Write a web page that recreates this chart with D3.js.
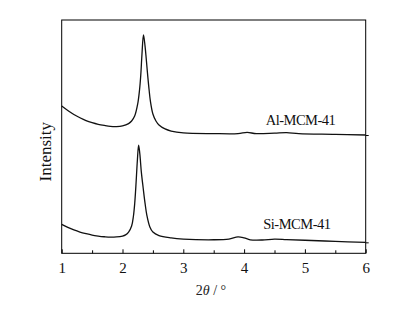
<!DOCTYPE html>
<html><head><meta charset="utf-8">
<script src="https://cdn.jsdelivr.net/npm/d3@7"></script>
<style>
html,body{margin:0;padding:0;background:#fff;}
svg{display:block;font-family:"Liberation Serif","Times New Roman",serif;}
</style></head>
<body>
<svg id="c" width="419" height="309"></svg>
<script>
// 2θ values and intensities (arbitrary units, stacked)
const alTheta = [1.0,1.1,1.2,1.3,1.4,1.5,1.6,1.7,1.8,1.9,2.0,2.1,2.15,2.2,2.25,2.28,2.3,2.32,2.345,2.37,2.39,2.41,2.43,2.46,2.5,2.55,2.6,2.7,2.8,3.0,3.5,3.9,4.05,4.2,4.5,4.7,4.9,5.5,6.0];
const alInt   = [631,612,595,581,569,560,553,548,544,543,546,556,567,588,640,700,762,852,936,890,835,775,720,650,597,567,550,533,524,516,513,513,518,513,515,517,513,510,507];
const siTheta = [1.0,1.1,1.2,1.3,1.4,1.5,1.6,1.7,1.8,1.9,2.0,2.05,2.1,2.15,2.18,2.2,2.22,2.245,2.265,2.285,2.31,2.34,2.37,2.4,2.45,2.5,2.6,2.8,3.0,3.5,3.75,3.9,4.0,4.1,4.3,4.5,4.7,5.0,5.5,6.0];
const siInt   = [124,111,100,91,84,78,74,71,69,70,74,79,91,117,160,211,288,400,464,426,348,280,216,164,113,91,76,66,61,58,61,70,66,58,57,61,59,56,51,47];
const xTicks = [1,2,3,4,5,6];
const xMinor = [1.5,2.5,3.5,4.5,5.5];
const seriesNames = ["Al-MCM-41","Si-MCM-41"];

const svg = d3.select("#c");
const L = 61.7, R = 365.7, T = 20, B = 253.3;
const x = d3.scaleLinear().domain([1,6]).range([L,R]);
const y = d3.scaleLinear().domain([0,1000]).range([B,T]);

// frame
svg.append("rect").attr("x",L).attr("y",T).attr("width",R-L).attr("height",B-T)
  .attr("fill","none").attr("stroke","#000").attr("stroke-width",1);

// bottom axis, ticks inward
const gx = svg.append("g").attr("transform",`translate(0,${B})`)
  .call(d3.axisBottom(x).tickValues(xTicks).tickFormat(d3.format("d")).tickSizeInner(-4).tickSizeOuter(0).tickPadding(9));
gx.select(".domain").remove();
gx.attr("font-size",15).attr("font-family","Liberation Serif, serif");
gx.selectAll("text").attr("fill","#111");
const gm = svg.append("g").attr("transform",`translate(0,${B})`)
  .call(d3.axisBottom(x).tickValues(xMinor).tickFormat("").tickSizeInner(-3).tickSizeOuter(0));
gm.select(".domain").remove();

// right axis ticks at curve ends
const gr = svg.append("g").attr("transform",`translate(${R},0)`)
  .call(d3.axisRight(y).tickValues([alInt[alInt.length-1], siInt[siInt.length-1]]).tickFormat("").tickSizeInner(3).tickSizeOuter(0));
gr.select(".domain").remove();

// curves
const line = d3.line().x(d=>x(d[0])).y(d=>y(d[1])).curve(d3.curveCatmullRom.alpha(0.5));
const data = [d3.zip(alTheta, alInt), d3.zip(siTheta, siInt)];
svg.selectAll("path.s").data(data).join("path").attr("class","s")
  .attr("d",line).attr("fill","none").attr("stroke","#111").attr("stroke-width",1.3);

// series labels
const labelPos = [[4.355, 550], [4.315, 104]];
svg.selectAll("text.lab").data(seriesNames).join("text").attr("class","lab")
  .attr("x",(d,i)=>x(labelPos[i][0])).attr("y",(d,i)=>y(labelPos[i][1]))
  .attr("font-size",14.5).attr("fill","#111").attr("letter-spacing","-0.5").text(d=>d);

// axis titles
const xt = svg.append("text").attr("x",211).attr("y",295).attr("text-anchor","middle")
  .attr("font-size",14).attr("fill","#222");
xt.append("tspan").text("2");
xt.append("tspan").attr("font-style","italic").text("θ");
xt.append("tspan").text(" / °");

svg.append("text").attr("transform",`translate(51,151.7) rotate(-90)`)
  .attr("text-anchor","middle").attr("font-size",17).attr("fill","#111").text("Intensity");
</script>
</body></html>
